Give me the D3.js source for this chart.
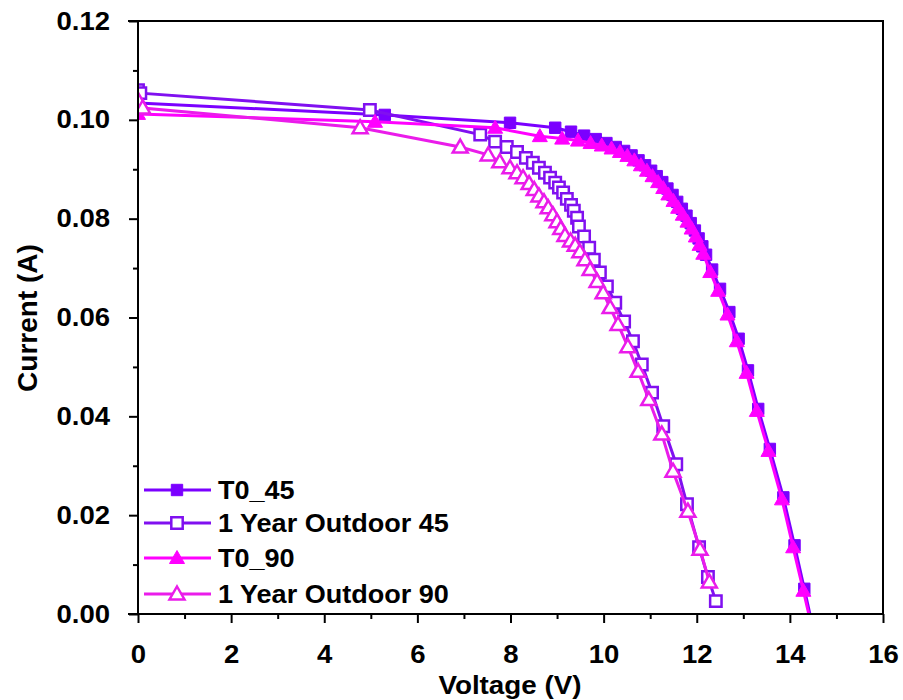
<!DOCTYPE html>
<html>
<head>
<meta charset="utf-8">
<script src="https://cdn.jsdelivr.net/npm/d3@7"></script>
<style>
  body { margin: 0; background: #fff; }
  text { font-family: "Liberation Sans", Arial, sans-serif; font-weight: bold; }
</style>
</head>
<body>
<div id="chart"></div>
<script>
// I-V curves: [voltage (V), current (A)]
var t0_45 = [[0,0.1034],[5.30,0.1010],[7.99,0.0994],[8.96,0.0984],[9.30,0.0976],[9.58,0.0968],[9.83,0.0961],[10.06,0.0953],[10.26,0.0945],[10.44,0.0937],[10.60,0.0928],[10.75,0.0918],[10.89,0.0908],[11.02,0.0897],[11.14,0.0886],[11.26,0.0874],[11.37,0.0861],[11.48,0.0848],[11.58,0.0834],[11.68,0.0820],[11.78,0.0806],[11.87,0.0791],[11.96,0.0776],[12.04,0.0760],[12.12,0.0744],[12.20,0.0727],[12.33,0.0697],[12.50,0.0658],[12.70,0.0611],[12.90,0.0557],[13.10,0.0493],[13.32,0.0415],[13.57,0.0334],[13.86,0.0236],[14.10,0.0139],[14.31,0.0051],[14.50,-0.0030]];
var year1_45 = [[0,0.1060],[0.05,0.1054],[4.98,0.1020],[7.35,0.0970],[7.67,0.0956],[7.92,0.0945],[8.14,0.0935],[8.33,0.0923],[8.48,0.0913],[8.61,0.0903],[8.74,0.0893],[8.85,0.0883],[8.96,0.0873],[9.04,0.0863],[9.13,0.0853],[9.21,0.0840],[9.30,0.0828],[9.36,0.0816],[9.43,0.0802],[9.47,0.0784],[9.58,0.0764],[9.69,0.0741],[9.79,0.0717],[9.92,0.0691],[10.07,0.0663],[10.25,0.0630],[10.44,0.0592],[10.63,0.0552],[10.82,0.0505],[11.04,0.0448],[11.28,0.0380],[11.56,0.0303],[11.79,0.0222],[12.05,0.0135],[12.24,0.0075],[12.41,0.0026]];
var t0_90 = [[0,0.1012],[5.09,0.0996],[7.67,0.0984],[8.63,0.0967],[9.11,0.0962],[9.45,0.0958],[9.72,0.0953],[9.96,0.0948],[10.17,0.0942],[10.35,0.0935],[10.51,0.0927],[10.66,0.0918],[10.80,0.0908],[10.93,0.0897],[11.05,0.0886],[11.17,0.0874],[11.28,0.0862],[11.39,0.0849],[11.50,0.0836],[11.60,0.0822],[11.70,0.0808],[11.80,0.0794],[11.89,0.0780],[11.98,0.0764],[12.06,0.0747],[12.14,0.0729],[12.29,0.0692],[12.46,0.0654],[12.66,0.0606],[12.86,0.0552],[13.07,0.0488],[13.29,0.0411],[13.54,0.0330],[13.83,0.0232],[14.07,0.0135],[14.29,0.0047],[14.48,-0.0030]];
var year1_90 = [[0,0.1040],[0.10,0.1024],[4.77,0.0984],[6.92,0.0945],[7.52,0.0929],[7.77,0.0915],[7.99,0.0903],[8.14,0.0893],[8.27,0.0883],[8.40,0.0871],[8.51,0.0859],[8.61,0.0846],[8.72,0.0834],[8.81,0.0822],[8.91,0.0808],[9.00,0.0794],[9.08,0.0780],[9.17,0.0766],[9.29,0.0755],[9.39,0.0746],[9.49,0.0733],[9.60,0.0717],[9.71,0.0697],[9.86,0.0673],[9.99,0.0650],[10.14,0.0620],[10.31,0.0586],[10.52,0.0541],[10.74,0.0491],[10.97,0.0434],[11.25,0.0364],[11.49,0.0289],[11.81,0.0208],[12.07,0.0131],[12.27,0.0065]];

var seriesNames = ["T0_45", "1 Year Outdoor 45", "T0_90", "1 Year Outdoor 90"];
var seriesColors = ["#7B00FF", "#8010F0", "#FF00FF", "#EA1CEA"];
var seriesSymbols = ["square", "square", "triangle", "triangle"];
var seriesFilled = [true, false, true, false];
var seriesData = [t0_45, year1_45, t0_90, year1_90];

var xTicks = [0, 2, 4, 6, 8, 10, 12, 14, 16];
var yTicks = [0.00, 0.02, 0.04, 0.06, 0.08, 0.10, 0.12];
var xTitle = "Voltage (V)";
var yTitle = "Current (A)";

var W = 903, H = 700;
var plot = { left: 138, right: 883, top: 21, bottom: 614 };

var svg = d3.select("#chart").append("svg")
	.attr("width", W)
	.attr("height", H);

var x = d3.scaleLinear().domain([0, 16]).range([plot.left, plot.right]);
var y = d3.scaleLinear().domain([0, 0.12]).range([plot.bottom, plot.top]);

svg.append("clipPath").attr("id", "clip")
	.append("rect")
	.attr("x", plot.left).attr("y", plot.top)
	.attr("width", plot.right - plot.left).attr("height", plot.bottom - plot.top);

// marker shapes
function markerPath(sym) {
	if (sym == "square") return d3.symbol().type(d3.symbolSquare).size(130)();
	return "M0,-7.5L7.5,5.5L-7.5,5.5Z";
}

var line = d3.line()
	.x(d => x(d[0]))
	.y(d => y(d[1]));

var plotG = svg.append("g").attr("clip-path", "url(#clip)");

seriesData.forEach(function (data, i) {
	var g = plotG.append("g");
	g.append("path")
		.datum(data)
		.attr("fill", "none")
		.attr("stroke", seriesColors[i])
		.attr("stroke-width", 3)
		.attr("d", line);
	g.selectAll("path.mk")
		.data(data)
		.enter().append("path")
		.attr("class", "mk")
		.attr("d", markerPath(seriesSymbols[i]))
		.attr("transform", d => "translate(" + x(d[0]) + "," + y(d[1]) + ")")
		.attr("fill", seriesFilled[i] ? seriesColors[i] : "#fff")
		.attr("stroke", seriesColors[i])
		.attr("stroke-width", seriesFilled[i] ? 1 : 2.5);
});

// frame (top and right)
svg.append("path")
	.attr("d", "M" + (plot.left - 10) + "," + plot.top + "H" + plot.right + "V" + plot.bottom)
	.attr("fill", "none").attr("stroke", "#000").attr("stroke-width", 2);

// axes
var xAxis = svg.append("g")
	.attr("transform", "translate(0," + plot.bottom + ")")
	.call(d3.axisBottom(x).tickValues(xTicks).tickSize(9).tickPadding(22).tickFormat(d3.format("d")));
svg.append("g")
	.attr("transform", "translate(0," + plot.bottom + ")")
	.call(d3.axisBottom(x).tickValues(d3.range(1, 16, 2)).tickSize(5).tickFormat(""))
	.call(g => g.select(".domain").remove());

var yAxis = svg.append("g")
	.attr("transform", "translate(" + plot.left + ",0)")
	.call(d3.axisLeft(y).tickValues(yTicks).tickSize(9).tickPadding(19).tickFormat(d3.format(".2f")));
svg.append("g")
	.attr("transform", "translate(" + plot.left + ",0)")
	.call(d3.axisLeft(y).tickValues([0.01, 0.03, 0.05, 0.07, 0.09, 0.11]).tickSize(5).tickFormat(""))
	.call(g => g.select(".domain").remove());

svg.selectAll(".domain").attr("stroke-width", 2);
svg.selectAll(".tick line").attr("stroke-width", 2);
svg.selectAll(".tick text")
	.attr("font-family", "'Liberation Sans', Arial, sans-serif")
	.attr("font-weight", "bold")
	.attr("font-size", "25px")
	.attr("fill", "#000")
	.attr("transform", "scale(1.1,1)");
// keep the right edge of the y labels where it was before the stretch
yAxis.selectAll(".tick text").attr("x", -28 / 1.1);

// bottom axis line runs from the 0.00 tick to the right frame
xAxis.select(".domain").attr("d", "M" + (plot.left - 10) + ",0H" + plot.right);
yAxis.select(".domain").attr("d", "M0," + plot.top + "V" + plot.bottom);

// axis titles
svg.append("text")
	.attr("transform", "translate(510,694) scale(1.07,1)")
	.attr("text-anchor", "middle")
	.attr("font-size", "26px")
	.text(xTitle);

svg.append("text")
	.attr("transform", "translate(37,318) rotate(-90)")
	.attr("text-anchor", "middle")
	.attr("font-size", "28px")
	.text(yTitle);

// legend
var legendRows = [490, 523, 558, 594];
seriesNames.forEach(function (name, i) {
	var ly = legendRows[i];
	svg.append("line")
		.attr("x1", 144).attr("x2", 211)
		.attr("y1", ly).attr("y2", ly)
		.attr("stroke", seriesColors[i]).attr("stroke-width", 3);
	svg.append("path")
		.attr("d", markerPath(seriesSymbols[i]))
		.attr("transform", "translate(177," + ly + ")")
		.attr("fill", seriesFilled[i] ? seriesColors[i] : "#fff")
		.attr("stroke", seriesColors[i])
		.attr("stroke-width", seriesFilled[i] ? 1 : 2.5);
	svg.append("text")
		.attr("transform", "translate(218," + (ly + 9) + ") scale(1.04,1)")
		.attr("font-size", "26px")
		.text(name);
});
</script>
</body>
</html>
